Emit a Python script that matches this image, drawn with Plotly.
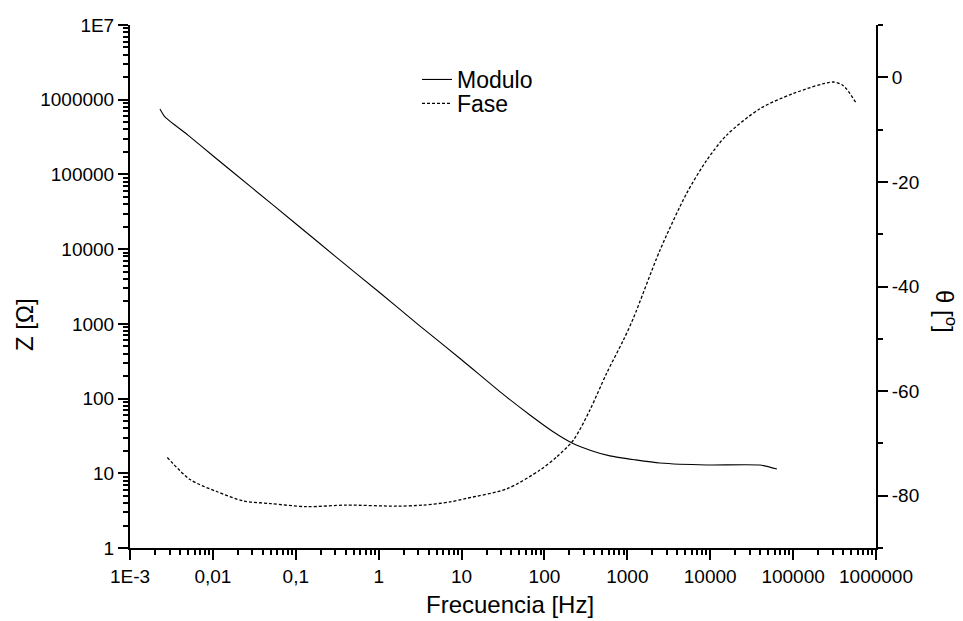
import plotly.graph_objects as go

# ---- data ----
mod_freq = [0.0023, 0.00264, 0.005, 0.01, 0.03, 0.1, 0.3, 1, 3, 10, 30, 66.8, 126, 215,
            355, 617, 1259, 2470, 9120, 39800, 63800]
mod_z = [753000, 589000, 336000, 178000, 65500, 21900, 8000, 2690, 977, 331, 120, 60.3,
         36.3, 25.5, 20.4, 17.1, 15.1, 13.7, 12.9, 12.9, 11.4]

fase_freq = [0.00282, 0.0053, 0.0111, 0.0233, 0.0489, 0.135, 0.411, 1.65, 3.45, 7.24, 11.5,
             35, 88.3, 140, 223, 354, 562, 893, 1180, 2470, 5190, 9040, 15700, 39800,
             100500, 305000, 403000, 583000]
fase_deg = [-72.7, -76.9, -79.2, -81.0, -81.5, -82.1, -81.8, -82.0, -81.8, -81.2, -80.5,
            -78.7, -75.1, -72.6, -69.4, -63.6, -56.6, -50.3, -46.1, -33.1, -22.2, -15.9,
            -11.1, -6.0, -3.1, -0.9, -1.6, -5.05]

x_tickvals = [1e-3, 1e-2, 1e-1, 1, 10, 100, 1000, 1e4, 1e5, 1e6]
x_ticktext = ["1E-3", "0,01", "0,1", "1", "10", "100", "1000", "10000", "100000", "1000000"]
y_tickvals = [1, 10, 100, 1000, 1e4, 1e5, 1e6, 1e7]
y_ticktext = ["1", "10", "100", "1000", "10000", "100000", "1000000", "1E7"]
y2_tickvals = [-80, -60, -40, -20, 0]
y2_ticktext = ["-80", "-60", "-40", "-20", "0"]

FONT = "Liberation Sans, Arial, sans-serif"

x_minor = [m * 10.0 ** e for e in range(-3, 6) for m in range(2, 10)]
y_minor = [m * 10.0 ** e for e in range(0, 7) for m in range(2, 10)]

fig = go.Figure()
fig.add_trace(go.Scatter(x=mod_freq, y=mod_z, mode="lines", name="Modulo",
                         line=dict(color="black", width=1.1, shape="spline", smoothing=0.6),
                         yaxis="y", legend="legend"))
fig.add_trace(go.Scatter(x=fase_freq, y=fase_deg, mode="lines", name="Fase",
                         line=dict(color="black", width=1.3, dash="3px,2px", shape="spline", smoothing=0.8),
                         yaxis="y2", legend="legend2"))

W, H = 963, 621
L, R, T, B = 130, 876, 25, 548

def px_x(p):
    return (p - L) / (R - L)

def px_y(p):
    return (B - p) / (B - T)

tickfont = dict(family=FONT, size=19, color="black")

fig.update_layout(
    width=W, height=H,
    margin=dict(l=L, r=W - R, t=T, b=H - B, pad=0, autoexpand=False),
    paper_bgcolor="white", plot_bgcolor="white",
    font=dict(family=FONT, color="black"),
    xaxis=dict(type="log", range=[-3, 6], showgrid=False, zeroline=False,
               showline=True, linecolor="black", linewidth=2,
               ticks="outside", ticklen=10, tickwidth=2, tickcolor="black",
               tickvals=x_tickvals, ticktext=x_ticktext, tickfont=tickfont,
               minor=dict(tickvals=x_minor, ticks="outside", ticklen=5, tickwidth=1.5,
                          tickcolor="black", showgrid=False)),
    yaxis=dict(type="log", range=[0, 7], showgrid=False, zeroline=False,
               showline=True, linecolor="black", linewidth=2,
               ticks="outside", ticklen=10, tickwidth=2, tickcolor="black",
               tickvals=y_tickvals, ticktext=y_ticktext, tickfont=tickfont,
               minor=dict(tickvals=y_minor, ticks="outside", ticklen=5, tickwidth=1.5,
                          tickcolor="black", showgrid=False)),
    yaxis2=dict(overlaying="y", side="right", anchor="x", range=[-90, 10],
                showgrid=False, zeroline=False,
                showline=True, linecolor="black", linewidth=2,
                ticks="outside", ticklen=10, tickwidth=2, tickcolor="black",
                tickvals=y2_tickvals, ticktext=y2_ticktext, tickfont=tickfont,
                minor=dict(dtick=10, tick0=-90, ticks="outside", ticklen=5, tickwidth=1.5,
                           tickcolor="black", showgrid=False)),
    legend=dict(x=px_x(417), y=px_y(58), xanchor="left", yanchor="top",
                bgcolor="rgba(0,0,0,0)", borderwidth=0,
                font=dict(family=FONT, size=23, color="black")),
    legend2=dict(x=px_x(417), y=px_y(82), xanchor="left", yanchor="top",
                 bgcolor="rgba(0,0,0,0)", borderwidth=0,
                 font=dict(family=FONT, size=23, color="black")),
    showlegend=True,
)

fig.add_annotation(text="Frecuencia [Hz]", xref="paper", yref="paper",
                   x=px_x(510), y=px_y(604), xanchor="center", yanchor="middle",
                   showarrow=False, font=dict(family=FONT, size=24, color="black"))
fig.add_annotation(text="Z [Ω]", xref="paper", yref="paper",
                   x=px_x(24), y=px_y(324), xanchor="center", yanchor="middle",
                   textangle=-90, showarrow=False,
                   font=dict(family=FONT, size=24, color="black"))
fig.add_annotation(text="θ [<sup>o</sup>]", xref="paper", yref="paper",
                   x=px_x(946), y=px_y(311), xanchor="center", yanchor="middle",
                   textangle=90, showarrow=False,
                   font=dict(family=FONT, size=24, color="black"))

fig.write_html("out.html",
               config={"displayModeBar": False},
               post_script="document.body.style.margin='0';document.body.style.padding='0';")
